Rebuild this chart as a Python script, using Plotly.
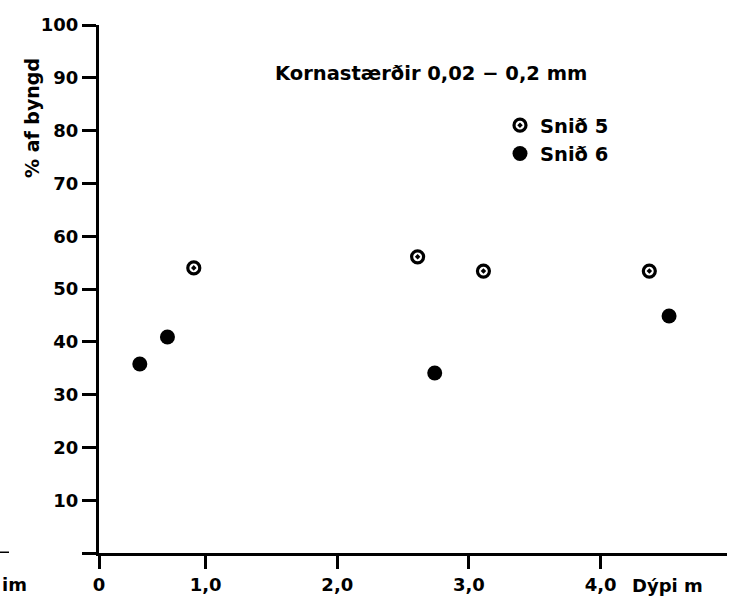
import plotly.graph_objects as go

# Data (depth in m, % by weight)
snid5_depth = [0.91, 2.61, 3.11, 4.37]
snid5_pct = [54.0, 56.1, 53.4, 53.4]
snid6_depth = [0.50, 0.71, 2.74, 4.52]
snid6_pct = [35.8, 40.9, 34.1, 44.9]

x_origin = 0.19  # where the vertical axis is drawn (labelled "0")
x_tick_vals = [x_origin, 1, 2, 3, 4]
x_tick_text = ["0", "1,0", "2,0", "3,0", "4,0"]
y_tick_vals = [0, 10, 20, 30, 40, 50, 60, 70, 80, 90, 100]
y_tick_text = [""] + [str(v) for v in y_tick_vals[1:]]

FONT = "DejaVu Sans"
W, H = 730, 616
L, R, T, B = 99, 3, 25, 63
PW, PH = W - L - R, H - T - B

def px(xp):
    return (xp - L) / PW

def py(yp):
    return (H - B - yp) / PH

fig = go.Figure()
fig.add_trace(go.Scatter(
    x=snid5_depth, y=snid5_pct, mode="markers", name="Snið 5",
    marker=dict(symbol="circle-open-dot", size=12, color="black",
                line=dict(width=3.2, color="black")),
))
fig.add_trace(go.Scatter(
    x=snid6_depth, y=snid6_pct, mode="markers", name="Snið 6",
    marker=dict(symbol="circle", size=15, color="black"),
))

axis_font = dict(family=FONT, size=18, color="black", weight="bold")

fig.update_layout(
    width=W, height=H,
    margin=dict(l=L, r=R, t=T, b=B),
    paper_bgcolor="white", plot_bgcolor="white",
    showlegend=True,
    legend=dict(x=px(500), y=py(106), xanchor="left", yanchor="top",
                font=dict(family=FONT, size=19.5, color="black", weight="bold"),
                bgcolor="rgba(0,0,0,0)", itemwidth=30),
    xaxis=dict(range=[x_origin, 4.96], tickmode="array",
               tickvals=x_tick_vals, ticktext=x_tick_text,
               showline=True, linecolor="black", linewidth=3,
               ticks="outside", ticklen=13, tickwidth=3, tickcolor="black",
               showgrid=False, zeroline=False, tickfont=axis_font),
    yaxis=dict(range=[0, 100], tickmode="array",
               tickvals=y_tick_vals, ticktext=y_tick_text,
               showline=True, linecolor="black", linewidth=3,
               ticks="outside", ticklen=14, tickwidth=3, tickcolor="black",
               showgrid=False, zeroline=False, tickfont=axis_font),
)

fig.add_annotation(text="% af byngd", xref="paper", yref="paper",
                   x=px(32), y=py(118), xanchor="center", yanchor="middle",
                   textangle=-90, showarrow=False,
                   font=dict(family=FONT, size=19, color="black", weight="bold"))
fig.add_annotation(text="Kornastærðir 0,02 − 0,2 mm", xref="paper", yref="paper",
                   x=px(431), y=py(73), xanchor="center", yanchor="middle",
                   showarrow=False,
                   font=dict(family=FONT, size=19.5, color="black", weight="bold"))
fig.add_annotation(text="Dýpi m", xref="paper", yref="paper",
                   x=px(630), y=py(585), xanchor="left", yanchor="middle",
                   showarrow=False, font=axis_font)
fig.add_annotation(text="im", xref="paper", yref="paper",
                   x=px(0), y=py(584), xanchor="left", yanchor="middle",
                   showarrow=False, font=axis_font)
fig.add_shape(type="line", xref="paper", yref="y",
              x0=px(0), x1=px(9), y0=0, y1=0,
              line=dict(color="black", width=3))

fig.write_html("out.html")
